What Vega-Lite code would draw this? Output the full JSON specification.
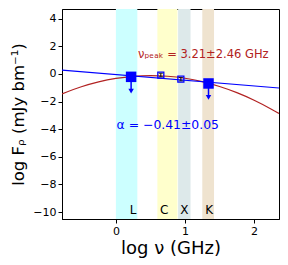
{
  "$schema": "https://vega.github.io/schema/vega-lite/v6.json",
  "width": 217,
  "height": 210,
  "autosize": {"type": "none"},
  "padding": {"left": 62, "top": 9, "right": 9, "bottom": 46},
  "background": "white",
  "config": {
    "view": {"stroke": "black", "strokeWidth": 1},
    "axis": {"domainColor": "black", "tickColor": "black", "labelColor": "black", "titleColor": "black", "grid": false, "labelFont": "DejaVu Sans", "titleFont": "DejaVu Sans", "labelFontSize": 11, "titleFontSize": 18, "titleFontWeight": "normal", "tickSize": 4},
    "axisY": {"tickCount": 8, "labelOverlap": false, "titlePadding": 6, "titleFontSize": 16.5},
    "axisX": {"tickCount": 3, "titlePadding": 3}
  },
  "datasets": {
    "bands": [
      {"band": "L", "x0": 0.0, "x1": 0.31, "xl": 0.25, "c": "#ccffff"},
      {"band": "C", "x0": 0.6, "x1": 0.89, "xl": 0.70, "c": "#ffffcc"},
      {"band": "X", "x0": 0.90, "x1": 1.08, "xl": 0.99, "c": "#dde9ea"},
      {"band": "K", "x0": 1.25, "x1": 1.42, "xl": 1.35, "c": "#efe3cf"}
    ],
    "curve": [
      {"x": -0.78, "y": -1.445}, {"x": -0.5, "y": -0.931}, {"x": -0.25, "y": -0.578},
      {"x": 0.0, "y": -0.326}, {"x": 0.25, "y": -0.173}, {"x": 0.5, "y": -0.12},
      {"x": 0.75, "y": -0.167}, {"x": 1.0, "y": -0.314}, {"x": 1.25, "y": -0.562},
      {"x": 1.5, "y": -0.909}, {"x": 1.75, "y": -1.356}, {"x": 2.0, "y": -1.903},
      {"x": 2.25, "y": -2.55}, {"x": 2.36, "y": -2.867}
    ],
    "fit": [{"x": -0.78, "y": 0.27}, {"x": 2.36, "y": -1.02}],
    "limits": [
      {"x": 0.22, "y": -0.21, "yend": -1.25},
      {"x": 1.34, "y": -0.69, "yend": -1.7}
    ],
    "dets": [
      {"x": 0.65, "y": -0.08, "lo": -0.2, "hi": 0.04},
      {"x": 0.94, "y": -0.38, "lo": -0.5, "hi": -0.26}
    ],
    "notes": [
      {"x": 0.32, "y": 1.4, "t": "νₚₑₐₖ = 3.21±2.46 GHz", "c": "#b22222", "s": 11.5},
      {"x": 0.01, "y": -3.7, "t": "α = −0.41±0.05", "c": "#0000ff", "s": 12.4}
    ]
  },
  "layer": [
    {
      "data": {"name": "bands"},
      "mark": {"type": "rect"},
      "encoding": {
        "x": {"field": "x0", "type": "quantitative", "scale": {"domain": [-0.78, 2.36], "nice": false, "zero": false}, "title": "log ν (GHz)"},
        "x2": {"field": "x1"},
        "color": {"field": "c", "type": "nominal", "scale": null, "legend": null}
      }
    },
    {
      "data": {"name": "bands"},
      "mark": {"type": "text", "font": "DejaVu Sans", "fontSize": 12, "color": "black", "baseline": "middle", "align": "center"},
      "encoding": {
        "x": {"field": "xl", "type": "quantitative", "title": "log ν (GHz)"},
        "y": {"datum": -9.85, "type": "quantitative", "scale": {"domain": [-10.5, 4.7], "nice": false, "zero": false}, "title": "log Fᵨ (mJy bm⁻¹)"},
        "text": {"field": "band"}
      }
    },
    {
      "data": {"name": "curve"},
      "mark": {"type": "line", "color": "#b22222", "strokeWidth": 1.2, "clip": true, "interpolate": "monotone"},
      "encoding": {
        "x": {"field": "x", "type": "quantitative", "title": "log ν (GHz)"},
        "y": {"field": "y", "type": "quantitative", "title": "log Fᵨ (mJy bm⁻¹)"}
      }
    },
    {
      "data": {"name": "fit"},
      "mark": {"type": "line", "color": "#0000ff", "strokeWidth": 1.2, "clip": true},
      "encoding": {
        "x": {"field": "x", "type": "quantitative", "title": "log ν (GHz)"},
        "y": {"field": "y", "type": "quantitative", "title": "log Fᵨ (mJy bm⁻¹)"}
      }
    },
    {
      "data": {"name": "limits"},
      "mark": {"type": "rule", "color": "#0000ff", "strokeWidth": 1.5},
      "encoding": {
        "x": {"field": "x", "type": "quantitative", "title": "log ν (GHz)"},
        "y": {"field": "y", "type": "quantitative", "title": "log Fᵨ (mJy bm⁻¹)"},
        "y2": {"field": "yend"}
      }
    },
    {
      "data": {"name": "limits"},
      "mark": {"type": "point", "shape": "triangle-down", "filled": true, "color": "#0000ff", "size": 30, "opacity": 1},
      "encoding": {
        "x": {"field": "x", "type": "quantitative", "title": "log ν (GHz)"},
        "y": {"field": "yend", "type": "quantitative", "title": "log Fᵨ (mJy bm⁻¹)"}
      }
    },
    {
      "data": {"name": "limits"},
      "mark": {"type": "square", "filled": true, "color": "#0000ff", "size": 110, "opacity": 1},
      "encoding": {
        "x": {"field": "x", "type": "quantitative", "title": "log ν (GHz)"},
        "y": {"field": "y", "type": "quantitative", "title": "log Fᵨ (mJy bm⁻¹)"}
      }
    },
    {
      "data": {"name": "dets"},
      "mark": {"type": "square", "filled": false, "color": "#0000ff", "size": 36, "strokeWidth": 1.3, "opacity": 1},
      "encoding": {
        "x": {"field": "x", "type": "quantitative", "title": "log ν (GHz)"},
        "y": {"field": "y", "type": "quantitative", "title": "log Fᵨ (mJy bm⁻¹)"}
      }
    },
    {
      "data": {"name": "dets"},
      "mark": {"type": "rule", "color": "black", "strokeWidth": 1},
      "encoding": {
        "x": {"field": "x", "type": "quantitative", "title": "log ν (GHz)"},
        "y": {"field": "lo", "type": "quantitative", "title": "log Fᵨ (mJy bm⁻¹)"},
        "y2": {"field": "hi"}
      }
    },
    {
      "data": {"name": "dets"},
      "mark": {"type": "tick", "color": "black", "orient": "horizontal", "size": 4, "thickness": 1},
      "encoding": {
        "x": {"field": "x", "type": "quantitative", "title": "log ν (GHz)"},
        "y": {"field": "lo", "type": "quantitative", "title": "log Fᵨ (mJy bm⁻¹)"}
      }
    },
    {
      "data": {"name": "dets"},
      "mark": {"type": "tick", "color": "black", "orient": "horizontal", "size": 4, "thickness": 1},
      "encoding": {
        "x": {"field": "x", "type": "quantitative", "title": "log ν (GHz)"},
        "y": {"field": "hi", "type": "quantitative", "title": "log Fᵨ (mJy bm⁻¹)"}
      }
    },
    {
      "data": {"name": "notes"},
      "mark": {"type": "text", "font": "DejaVu Sans", "align": "left", "baseline": "middle"},
      "encoding": {
        "x": {"field": "x", "type": "quantitative", "title": "log ν (GHz)"},
        "y": {"field": "y", "type": "quantitative", "title": "log Fᵨ (mJy bm⁻¹)"},
        "text": {"field": "t"},
        "size": {"field": "s", "type": "quantitative", "scale": null, "legend": null},
        "color": {"field": "c", "type": "nominal", "scale": null, "legend": null}
      }
    }
  ]
}
